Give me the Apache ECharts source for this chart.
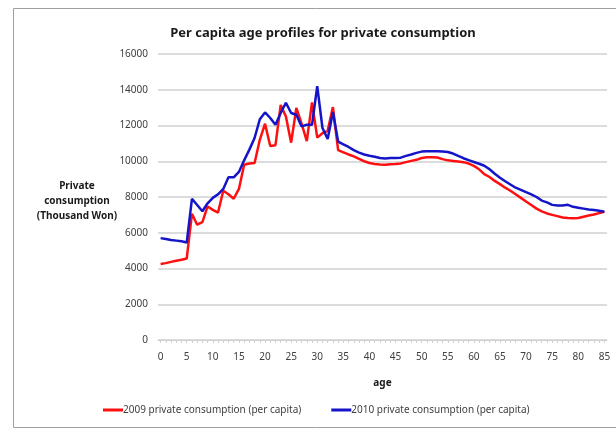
<!DOCTYPE html>
<html>
<head>
<meta charset="utf-8">
<script src="https://cdn.jsdelivr.net/npm/echarts@6/dist/echarts.min.js"></script>
<style>
  html, body { margin: 0; padding: 0; background: #fff; }
  #chart { width: 616px; height: 434px; }
</style>
</head>
<body>
<div id="chart"></div>
<script>
// ages 0..85
const ages = Array.from({ length: 86 }, (_, i) => String(i))

const consumption2009 = [
  4250, 4300, 4370, 4430, 4490, 4560, 7060, 6450, 6600, 7470,
  7280, 7130, 8350, 8150, 7900, 8450, 9800, 9870, 9900, 11200,
  12100, 10850, 10900, 13150, 12500, 11040, 12980, 12100, 11130, 13290,
  11320, 11570, 11700, 13030, 10620, 10500, 10380, 10270, 10130, 10000,
  9900, 9850, 9820, 9800, 9830, 9850, 9880, 9950, 10020, 10080,
  10180, 10220, 10230, 10210, 10120, 10050, 10020, 9990, 9950, 9870,
  9740, 9550, 9280, 9120, 8900, 8720, 8520, 8350, 8150, 7950,
  7750, 7550, 7350, 7200, 7080, 7000, 6930, 6850, 6820, 6810,
  6830, 6900, 6960, 7020, 7100, 7170
]

const consumption2010 = [
  5700, 5650, 5600, 5560, 5520, 5450, 7900, 7550, 7200, 7650,
  7950, 8150, 8450, 9100, 9100, 9400, 10050, 10650, 11300, 12350,
  12730, 12420, 12040, 12700, 13270, 12700, 12600, 11950, 12040, 12040,
  14200, 11860, 11240, 12750, 11100, 10950, 10800, 10620, 10480, 10380,
  10310, 10250, 10180, 10150, 10180, 10180, 10200, 10300, 10380, 10470,
  10540, 10560, 10560, 10560, 10550, 10520, 10430, 10300, 10170, 10060,
  9960, 9860, 9750, 9550, 9300, 9080, 8880, 8700, 8520, 8400,
  8270, 8150, 8000, 7800, 7700, 7560, 7520, 7530, 7560, 7450,
  7400, 7350, 7300, 7270, 7230, 7180
]

const chart = echarts.init(document.getElementById('chart'))
const font = 'Noto Sans'

chart.setOption({
  animation: false,
  backgroundColor: '#fff',
  title: {
    text: 'Per capita age profiles for private consumption',
    left: 318,
    top: 22,
    textAlign: 'center',
    textStyle: { fontFamily: font, fontSize: 13, fontWeight: 'bold', color: '#1a1a1a' }
  },
  graphic: [
    {
      type: 'rect',
      shape: { x: 13.5, y: 8.5, width: 620, height: 419 },
      style: { fill: 'none', stroke: '#a0a0a0', lineWidth: 1 },
      silent: true
    },
    {
      type: 'text',
      x: 77,
      y: 179,
      style: {
        text: 'Private\nconsumption\n(Thousand Won)',
        align: 'center',
        fontFamily: font,
        fontSize: 10,
        fontWeight: 'bold',
        lineHeight: 15,
        fill: '#1a1a1a'
      }
    }
  ],
  legend: {
    bottom: 14,
    left: 98,
    itemWidth: 20,
    itemHeight: 3,
    itemGap: 30,
    icon: 'rect',
    textStyle: { fontFamily: font, fontSize: 10, color: '#404040', padding: [0, 0, 0, -5] }
  },
  grid: { left: 158, right: 9, top: 54, bottom: 94 },
  xAxis: {
    type: 'category',
    data: ages,
    boundaryGap: true,
    name: 'age',
    nameLocation: 'middle',
    nameGap: 38,
    nameTextStyle: { fontFamily: font, fontSize: 10, fontWeight: 'bold', color: '#1a1a1a' },
    axisLine: { lineStyle: { color: '#d0d0d0', width: 1 } },
    axisTick: { show: true, interval: 0, alignWithLabel: true, length: 3, lineStyle: { color: '#d0d0d0' } },
    axisLabel: { interval: 4, margin: 12, fontFamily: font, fontSize: 10, color: '#404040' },
    splitLine: { show: false }
  },
  yAxis: {
    type: 'value',
    min: 0,
    max: 16000,
    interval: 2000,
    axisLine: { show: false },
    axisTick: { show: false },
    axisLabel: { margin: 10, fontFamily: font, fontSize: 10, color: '#404040', formatter: v => String(v) },
    splitLine: { lineStyle: { color: '#dcdcdc', width: 2 } }
  },
  series: [
    {
      name: '2009 private consumption (per capita)',
      type: 'line',
      data: consumption2009,
      showSymbol: false,
      symbol: 'none',
      lineStyle: { width: 2.5, color: '#ff1010' },
      itemStyle: { color: '#ff1010' }
    },
    {
      name: '2010 private consumption (per capita)',
      type: 'line',
      data: consumption2010,
      showSymbol: false,
      symbol: 'none',
      lineStyle: { width: 2.5, color: '#1414c8' },
      itemStyle: { color: '#1414c8' }
    }
  ]
})
</script>
</body>
</html>
